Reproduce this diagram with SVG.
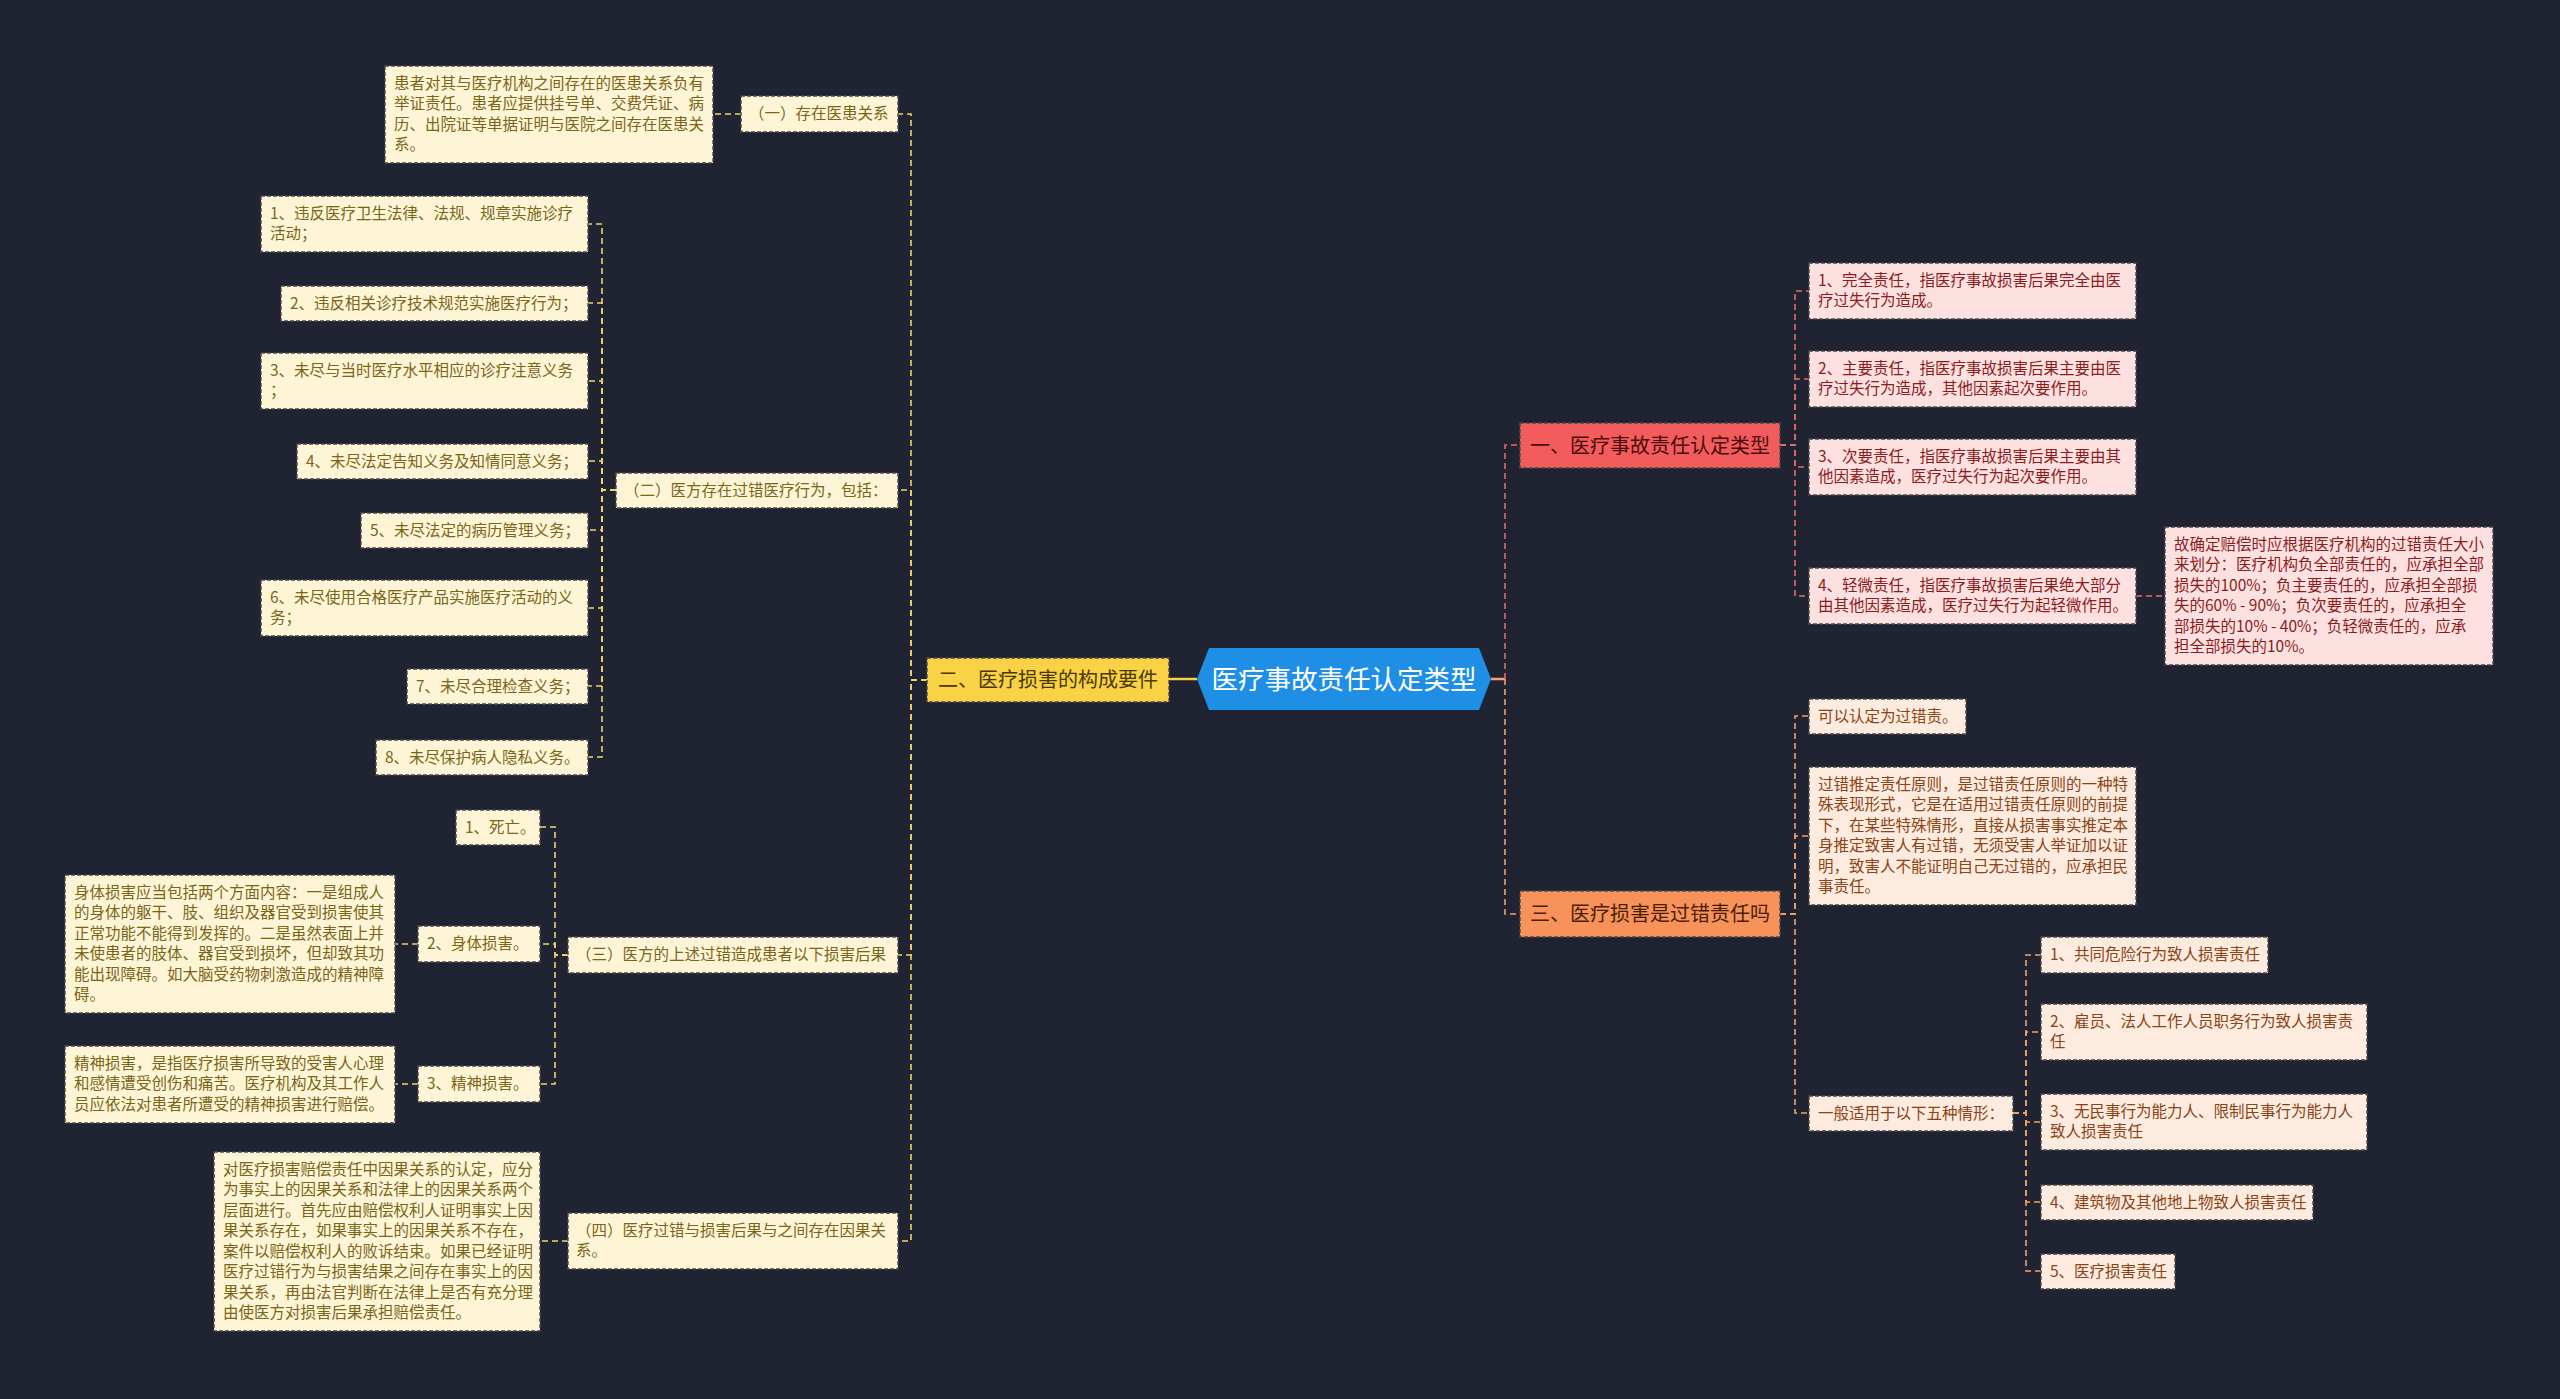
<svg xmlns="http://www.w3.org/2000/svg" width="2560" height="1399" viewBox="0 0 2560 1399">
<style>
text{font-family:"Noto Sans CJK SC","Noto Sans",sans-serif}
.s{font-size:15.5px}
.b{font-size:20px}
.box{stroke:#4a4a4a;stroke-width:1.4;stroke-dasharray:4 2}
.yc{fill:#fdf5d6}.yt{fill:#7b6519}
.rc{fill:#fde1e1}.rt{fill:#8c1c1c}
.oc{fill:#fdebdf}.ot{fill:#8a4416}
.cy{fill:none;stroke:#efd36a;stroke-width:1.6;stroke-dasharray:6 4}
.cr{fill:none;stroke:#e36c6c;stroke-width:1.6;stroke-dasharray:6 4}
.co{fill:none;stroke:#f0a266;stroke-width:1.6;stroke-dasharray:6 4}
</style>
<rect width="2560" height="1399" fill="#202332"/>
<g id="connectors">
<path d="M1197 679H1169" fill="none" stroke="#f5d04a" stroke-width="2.5"/>
<path d="M1491 679H1505" fill="none" stroke="#f4a07c" stroke-width="2.5"/>
<path class="cy" d="M927 680H911V114H898"/>
<path class="cy" d="M927 680H911V490H898"/>
<path class="cy" d="M927 680H911V955H898"/>
<path class="cy" d="M927 680H911V1241H898"/>
<path class="cy" d="M741 114H713"/>
<path class="cy" d="M616 490H602V224H588"/>
<path class="cy" d="M616 490H602V303H588"/>
<path class="cy" d="M616 490H602V381H588"/>
<path class="cy" d="M616 490H602V461H588"/>
<path class="cy" d="M616 490H602V530H588"/>
<path class="cy" d="M616 490H602V608H588"/>
<path class="cy" d="M616 490H602V686H588"/>
<path class="cy" d="M616 490H602V757H588"/>
<path class="cy" d="M568 955H555V827H540"/>
<path class="cy" d="M568 955H555V944H540"/>
<path class="cy" d="M568 955H555V1084H540"/>
<path class="cy" d="M418 944H395"/>
<path class="cy" d="M418 1084H395"/>
<path class="cy" d="M568 1241H540"/>
<path class="cr" d="M1505 679V445H1520"/>
<path class="cr" d="M1780 445H1795V291H1809"/>
<path class="cr" d="M1780 445H1795V379H1809"/>
<path class="cr" d="M1780 445H1795V467H1809"/>
<path class="cr" d="M1780 445H1795V596H1809"/>
<path class="cr" d="M2136 596H2165"/>
<path class="co" d="M1505 679V914H1520"/>
<path class="co" d="M1780 914H1795V716H1809"/>
<path class="co" d="M1780 914H1795V836H1809"/>
<path class="co" d="M1780 914H1795V1113H1809"/>
<path class="co" d="M2013 1113H2026V955H2041"/>
<path class="co" d="M2013 1113H2026V1032H2041"/>
<path class="co" d="M2013 1113H2026V1122H2041"/>
<path class="co" d="M2013 1113H2026V1202H2041"/>
<path class="co" d="M2013 1113H2026V1271H2041"/>
</g>
<g id="root">
<polygon points="1197,679 1209,648 1479,648 1491,679 1479,710 1209,710" fill="#1f8fe6"/>
<text x="1344" y="688.5" text-anchor="middle" font-size="26.5" fill="#ffffff">医疗事故责任认定类型</text>
</g>
<g id="b1">
<rect class="box" x="1520" y="423" width="260" height="45" fill="#f25c5c"/>
<text class="b" x="1530" y="452.5" fill="#4a0c0c">一、医疗事故责任认定类型</text>
</g>
<g id="b1-1"><rect class="box rc" x="1809" y="263" width="327" height="56"/>
<text class="s rt" x="1818" y="285.8">1、完全责任，指医疗事故损害后果完全由医</text><text class="s rt" x="1818" y="306.3">疗过失行为造成。</text></g>
<g id="b1-2"><rect class="box rc" x="1809" y="351" width="327" height="56"/>
<text class="s rt" x="1818" y="373.8">2、主要责任，指医疗事故损害后果主要由医</text><text class="s rt" x="1818" y="394.3">疗过失行为造成，其他因素起次要作用。</text></g>
<g id="b1-3"><rect class="box rc" x="1809" y="439" width="327" height="56"/>
<text class="s rt" x="1818" y="461.8">3、次要责任，指医疗事故损害后果主要由其</text><text class="s rt" x="1818" y="482.3">他因素造成，医疗过失行为起次要作用。</text></g>
<g id="b1-4"><rect class="box rc" x="1809" y="568" width="327" height="56"/>
<text class="s rt" x="1818" y="590.8">4、轻微责任，指医疗事故损害后果绝大部分</text><text class="s rt" x="1818" y="611.3">由其他因素造成，医疗过失行为起轻微作用。</text></g>
<g id="b1-4-1"><rect class="box rc" x="2165" y="527" width="328" height="138"/>
<text class="s rt" x="2174" y="549.8">故确定赔偿时应根据医疗机构的过错责任大小</text>
<text class="s rt" x="2174" y="570.3">来划分：医疗机构负全部责任的，应承担全部</text>
<text class="s rt" x="2174" y="590.8">损失的100%；负主要责任的，应承担全部损</text>
<text class="s rt" x="2174" y="611.3">失的60% - 90%；负次要责任的，应承担全</text>
<text class="s rt" x="2174" y="631.8">部损失的10% - 40%；负轻微责任的，应承</text>
<text class="s rt" x="2174" y="652.3">担全部损失的10%。</text></g>
<g id="b3">
<rect class="box" x="1520" y="891" width="260" height="46" fill="#f7935a"/>
<text class="b" x="1530" y="921" fill="#4a1e04">三、医疗损害是过错责任吗</text>
</g>
<g id="b3-1"><rect class="box oc" x="1809" y="699" width="157" height="35"/>
<text class="s ot" x="1818" y="721.8">可以认定为过错责。</text></g>
<g id="b3-2"><rect class="box oc" x="1809" y="767" width="327" height="138"/>
<text class="s ot" x="1818" y="789.8">过错推定责任原则，是过错责任原则的一种特</text>
<text class="s ot" x="1818" y="810.3">殊表现形式，它是在适用过错责任原则的前提</text>
<text class="s ot" x="1818" y="830.8">下，在某些特殊情形，直接从损害事实推定本</text>
<text class="s ot" x="1818" y="851.3">身推定致害人有过错，无须受害人举证加以证</text>
<text class="s ot" x="1818" y="871.8">明，致害人不能证明自己无过错的，应承担民</text>
<text class="s ot" x="1818" y="892.3">事责任。</text></g>
<g id="b3-3"><rect class="box oc" x="1809" y="1096" width="204" height="35"/>
<text class="s ot" x="1818" y="1118.8">一般适用于以下五种情形：</text></g>
<g id="b3-3-1"><rect class="box oc" x="2041" y="937" width="227" height="36"/>
<text class="s ot" x="2050" y="960.3">1、共同危险行为致人损害责任</text></g>
<g id="b3-3-2"><rect class="box oc" x="2041" y="1004" width="326" height="56"/>
<text class="s ot" x="2050" y="1026.8">2、雇员、法人工作人员职务行为致人损害责</text><text class="s ot" x="2050" y="1047.3">任</text></g>
<g id="b3-3-3"><rect class="box oc" x="2041" y="1094" width="326" height="56"/>
<text class="s ot" x="2050" y="1116.8">3、无民事行为能力人、限制民事行为能力人</text><text class="s ot" x="2050" y="1137.3">致人损害责任</text></g>
<g id="b3-3-4"><rect class="box oc" x="2041" y="1185" width="272" height="35"/>
<text class="s ot" x="2050" y="1207.8">4、建筑物及其他地上物致人损害责任</text></g>
<g id="b3-3-5"><rect class="box oc" x="2041" y="1254" width="134" height="35"/>
<text class="s ot" x="2050" y="1276.8">5、医疗损害责任</text></g>
<g id="b2">
<rect class="box" x="927" y="658" width="242" height="44" fill="#f9d245"/>
<text class="b" x="938" y="687" fill="#4a3900">二、医疗损害的构成要件</text>
</g>
<g id="b2-1"><rect class="box yc" x="741" y="96" width="157" height="36"/>
<text class="s yt" x="749" y="119.3">（一）存在医患关系</text></g>
<g id="b2-1-1"><rect class="box yc" x="385" y="66" width="328" height="97"/>
<text class="s yt" x="394" y="88.8">患者对其与医疗机构之间存在的医患关系负有</text>
<text class="s yt" x="394" y="109.3">举证责任。患者应提供挂号单、交费凭证、病</text>
<text class="s yt" x="394" y="129.8">历、出院证等单据证明与医院之间存在医患关</text>
<text class="s yt" x="394" y="150.3">系。</text></g>
<g id="b2-2"><rect class="box yc" x="616" y="473" width="282" height="35"/>
<text class="s yt" x="624" y="495.8">（二）医方存在过错医疗行为，包括：</text></g>
<g id="b2-2-1"><rect class="box yc" x="261" y="196" width="327" height="56"/>
<text class="s yt" x="270" y="218.8">1、违反医疗卫生法律、法规、规章实施诊疗</text><text class="s yt" x="270" y="239.3">活动；</text></g>
<g id="b2-2-2"><rect class="box yc" x="281" y="286" width="307" height="35"/>
<text class="s yt" x="290" y="308.8">2、违反相关诊疗技术规范实施医疗行为；</text></g>
<g id="b2-2-3"><rect class="box yc" x="261" y="353" width="327" height="56"/>
<text class="s yt" x="270" y="375.8">3、未尽与当时医疗水平相应的诊疗注意义务</text><text class="s yt" x="270" y="396.3">；</text></g>
<g id="b2-2-4"><rect class="box yc" x="297" y="444" width="291" height="35"/>
<text class="s yt" x="306" y="466.8">4、未尽法定告知义务及知情同意义务；</text></g>
<g id="b2-2-5"><rect class="box yc" x="361" y="513" width="227" height="35"/>
<text class="s yt" x="370" y="535.8">5、未尽法定的病历管理义务；</text></g>
<g id="b2-2-6"><rect class="box yc" x="261" y="580" width="327" height="56"/>
<text class="s yt" x="270" y="602.8">6、未尽使用合格医疗产品实施医疗活动的义</text><text class="s yt" x="270" y="623.3">务；</text></g>
<g id="b2-2-7"><rect class="box yc" x="407" y="669" width="181" height="35"/>
<text class="s yt" x="416" y="691.8">7、未尽合理检查义务；</text></g>
<g id="b2-2-8"><rect class="box yc" x="376" y="740" width="212" height="35"/>
<text class="s yt" x="385" y="762.8">8、未尽保护病人隐私义务。</text></g>
<g id="b2-3"><rect class="box yc" x="568" y="937" width="330" height="36"/>
<text class="s yt" x="576" y="960.3">（三）医方的上述过错造成患者以下损害后果</text></g>
<g id="b2-3-1"><rect class="box yc" x="456" y="810" width="84" height="35"/>
<text class="s yt" x="465" y="832.8">1、死亡。</text></g>
<g id="b2-3-2"><rect class="box yc" x="418" y="926" width="122" height="36"/>
<text class="s yt" x="427" y="949.3">2、身体损害。</text></g>
<g id="b2-3-2-1"><rect class="box yc" x="65" y="875" width="330" height="138"/>
<text class="s yt" x="74" y="897.8">身体损害应当包括两个方面内容：一是组成人</text>
<text class="s yt" x="74" y="918.3">的身体的躯干、肢、组织及器官受到损害使其</text>
<text class="s yt" x="74" y="938.8">正常功能不能得到发挥的。二是虽然表面上并</text>
<text class="s yt" x="74" y="959.3">未使患者的肢体、器官受到损坏，但却致其功</text>
<text class="s yt" x="74" y="979.8">能出现障碍。如大脑受药物刺激造成的精神障</text>
<text class="s yt" x="74" y="1000.3">碍。</text></g>
<g id="b2-3-3"><rect class="box yc" x="418" y="1066" width="122" height="36"/>
<text class="s yt" x="427" y="1089.3">3、精神损害。</text></g>
<g id="b2-3-3-1"><rect class="box yc" x="65" y="1046" width="330" height="77"/>
<text class="s yt" x="74" y="1068.8">精神损害，是指医疗损害所导致的受害人心理</text>
<text class="s yt" x="74" y="1089.3">和感情遭受创伤和痛苦。医疗机构及其工作人</text>
<text class="s yt" x="74" y="1109.8">员应依法对患者所遭受的精神损害进行赔偿。</text></g>
<g id="b2-4"><rect class="box yc" x="568" y="1213" width="330" height="56"/>
<text class="s yt" x="576" y="1235.8">（四）医疗过错与损害后果与之间存在因果关</text><text class="s yt" x="576" y="1256.3">系。</text></g>
<g id="b2-4-1"><rect class="box yc" x="214" y="1152" width="326" height="179"/>
<text class="s yt" x="223" y="1174.8">对医疗损害赔偿责任中因果关系的认定，应分</text>
<text class="s yt" x="223" y="1195.3">为事实上的因果关系和法律上的因果关系两个</text>
<text class="s yt" x="223" y="1215.8">层面进行。首先应由赔偿权利人证明事实上因</text>
<text class="s yt" x="223" y="1236.3">果关系存在，如果事实上的因果关系不存在，</text>
<text class="s yt" x="223" y="1256.8">案件以赔偿权利人的败诉结束。如果已经证明</text>
<text class="s yt" x="223" y="1277.3">医疗过错行为与损害结果之间存在事实上的因</text>
<text class="s yt" x="223" y="1297.8">果关系，再由法官判断在法律上是否有充分理</text>
<text class="s yt" x="223" y="1318.3">由使医方对损害后果承担赔偿责任。</text></g>
</svg>
